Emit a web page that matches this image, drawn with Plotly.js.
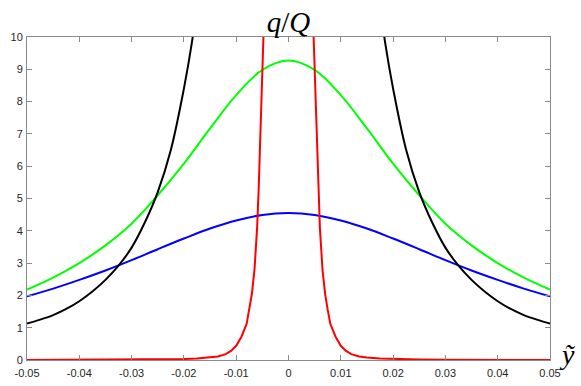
<!DOCTYPE html>
<html>
<head>
<meta charset="utf-8">
<script src="https://cdn.plot.ly/plotly-3.0.1.min.js"></script>
<style>html,body{margin:0;padding:0;background:#fff;}#chart{width:581px;height:386px;}</style>
</head>
<body>
<div id="chart"></div>
<script>
// x grid for the smooth curves
const gridX = [-0.05,-0.045,-0.04,-0.035,-0.03,-0.025,-0.02,-0.015,-0.01,-0.005,0,0.005,0.01,0.015,0.02,0.025,0.03,0.035,0.04,0.045,0.05];
const greenY = [2.18,2.55,3.0,3.55,4.22,5.1,6.08,7.17,8.2,8.98,9.27,8.98,8.2,7.17,6.08,5.1,4.22,3.55,3.0,2.55,2.18];
const blueY  = [1.97,2.21,2.48,2.77,3.09,3.43,3.76,4.07,4.32,4.49,4.55,4.49,4.32,4.07,3.76,3.43,3.09,2.77,2.48,2.21,1.97];

// black curve: two branches (null separates them)
const blackX = [-0.05,-0.0475,-0.045,-0.0425,-0.04,-0.0375,-0.035,-0.0325,-0.03,-0.0275,-0.025,-0.0225,-0.02,-0.0185,-0.0175,
                null,
                0.0175,0.0185,0.02,0.0225,0.025,0.0275,0.03,0.0325,0.035,0.0375,0.04,0.0425,0.045,0.0475,0.05];
const blackY = [1.13,1.25,1.39,1.58,1.82,2.12,2.48,2.92,3.48,4.25,5.2,6.5,8.4,9.8,11.0,
                null,
                11.0,9.8,8.4,6.5,5.2,4.25,3.48,2.92,2.48,2.12,1.82,1.58,1.39,1.25,1.13];

// red curve: two branches
const redX = [-0.05,-0.04,-0.03,-0.025,-0.02,-0.0175,-0.015,-0.0135,-0.012,-0.011,-0.01,-0.009,-0.008,-0.0075,-0.007,-0.0065,-0.006,-0.0057,-0.0053,-0.0048,-0.0046,
              null,
              0.0046,0.0048,0.0053,0.0057,0.006,0.0065,0.007,0.0075,0.008,0.009,0.01,0.011,0.012,0.0135,0.015,0.0175,0.02,0.025,0.03,0.04,0.05];
const redY = [0.0,0.003,0.008,0.015,0.03,0.045,0.075,0.11,0.18,0.28,0.44,0.72,1.12,1.55,2.05,2.8,4.1,5.3,7.5,10.0,11.0,
              null,
              11.0,10.0,7.5,5.3,4.1,2.8,2.05,1.55,1.12,0.72,0.44,0.28,0.18,0.11,0.075,0.045,0.03,0.015,0.008,0.003,0.0];

const xTickVals = [-0.05,-0.04,-0.03,-0.02,-0.01,0,0.01,0.02,0.03,0.04,0.05];
const xTickText = ['-0.05','-0.04','-0.03','-0.02','-0.01','0','0.01','0.02','0.03','0.04','0.05'];
const yTickVals = [0,1,2,3,4,5,6,7,8,9,10];
const yTickText = ['0','1','2','3','4','5','6','7','8','9','10'];

const titleText = '<i>q</i>/<i>Q</i>';
const xLabelText = '<i>ỹ</i>';

const lw = 2;
const traces = [
  {x: gridX, y: blueY, mode: 'lines', line: {color: '#0000ff', width: lw, shape: 'spline'}, hoverinfo: 'skip'},
  {x: gridX, y: greenY, mode: 'lines', line: {color: '#00ff00', width: lw, shape: 'spline'}, hoverinfo: 'skip'},
  {x: blackX, y: blackY, mode: 'lines', line: {color: '#000000', width: lw, shape: 'spline'}, connectgaps: false, hoverinfo: 'skip'},
  {x: redX, y: redY, mode: 'lines', line: {color: '#ff0000', width: lw}, connectgaps: false, hoverinfo: 'skip'}
];

const axCommon = {
  showgrid: false, zeroline: false, showline: true, mirror: 'ticks',
  linecolor: '#8a8a8a', linewidth: 1,
  ticks: 'inside', ticklen: 5, tickcolor: '#8a8a8a', tickwidth: 1,
  tickfont: {family: 'Liberation Sans, Arial, sans-serif', size: 11, color: '#262626'},
  tickmode: 'array'
};

const layout = {
  width: 581, height: 386,
  margin: {l: 27, r: 31, t: 37, b: 26},
  paper_bgcolor: '#ffffff', plot_bgcolor: '#ffffff',
  showlegend: false,
  title: {text: titleText, x: 0.5, xref: 'paper', xanchor: 'center', y: 1, yref: 'paper', yanchor: 'bottom', pad: {b: 5},
          font: {family: 'Liberation Serif, Times New Roman, serif', size: 29, color: '#000'}},
  xaxis: Object.assign({}, axCommon, {range: [-0.05, 0.05], tickvals: xTickVals, ticktext: xTickText, ticklabelstandoff: 3}),
  yaxis: Object.assign({}, axCommon, {range: [0, 10], tickvals: yTickVals, ticktext: yTickText, ticklabelstandoff: 1}),
  annotations: [{
    text: xLabelText, xref: 'paper', yref: 'paper', x: 1, y: 0, xanchor: 'left', yanchor: 'middle',
    xshift: 7, yshift: 6, showarrow: false,
    font: {family: 'Liberation Serif, Times New Roman, serif', size: 28, color: '#000'}
  }]
};

Plotly.newPlot('chart', traces, layout, {staticPlot: true, displayModeBar: false});
</script>
</body>
</html>
